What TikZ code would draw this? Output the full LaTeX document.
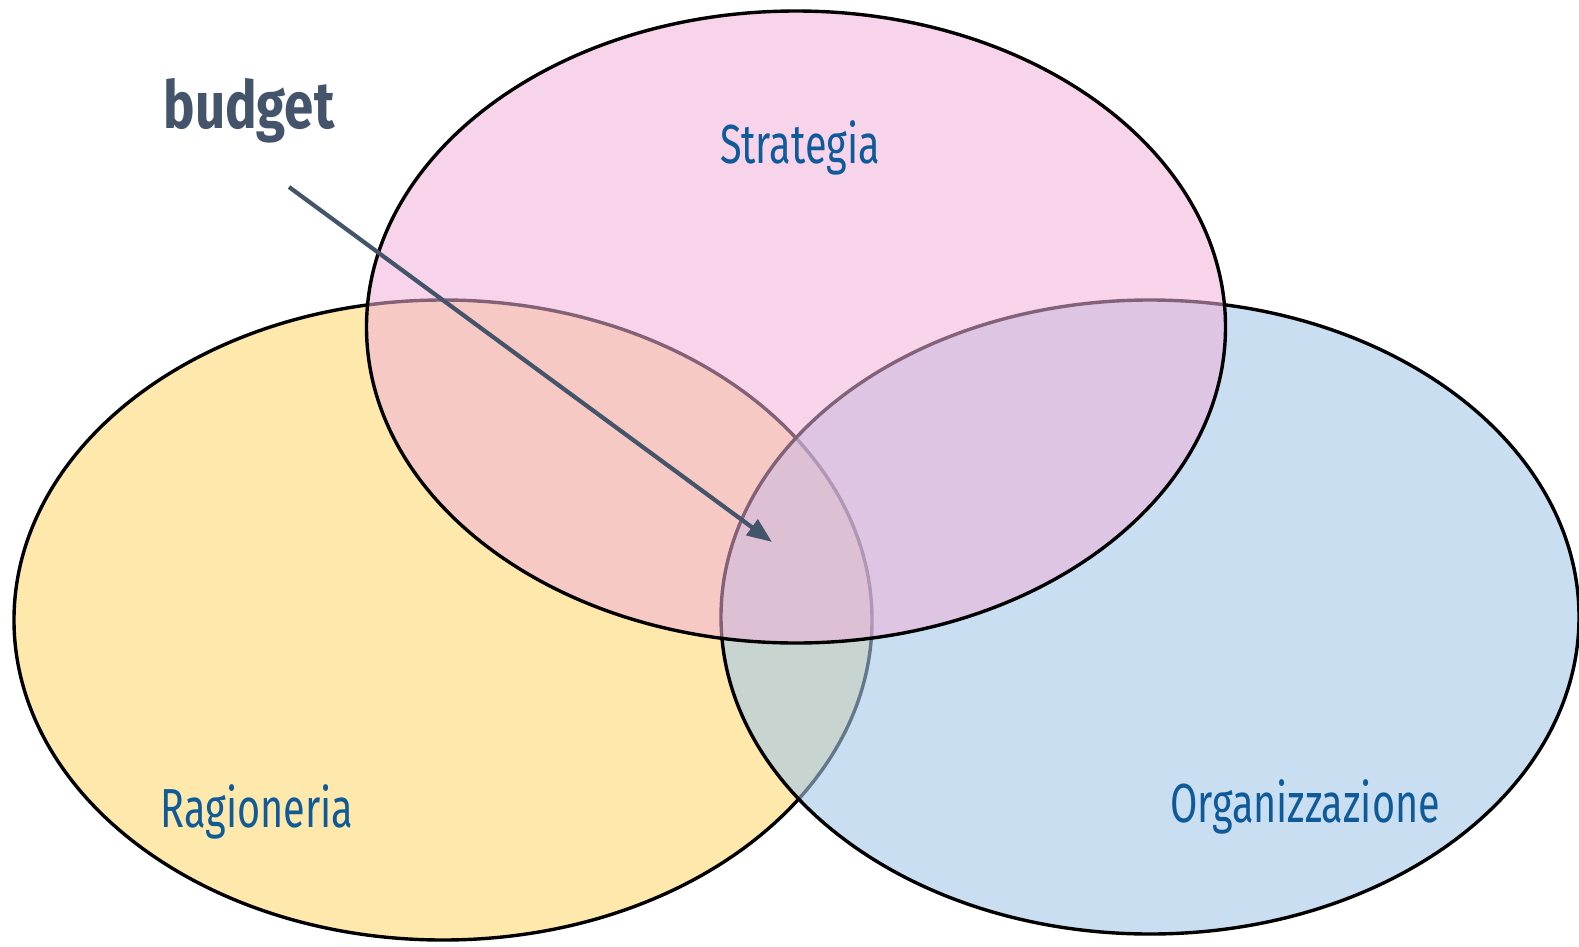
\documentclass[tikz,border=0pt]{standalone}
\usepackage{fontspec}
\setmainfont{Fira Sans}[FakeStretch=0.8]
\newfontfamily\stretta{Fira Sans}[FakeStretch=0.72]
\usepackage{tikz}
\usetikzlibrary{arrows.meta, shapes.geometric}

\definecolor{ragio}{RGB}{254,232,172}
\definecolor{strat}{RGB}{240,177,217}
\definecolor{organ}{RGB}{165,200,232}
\definecolor{testo}{RGB}{15,90,152}
\definecolor{ardesia}{RGB}{68,84,106}

\begin{document}
\begin{tikzpicture}[x=1bp,y=-1bp]
    \tikzset{insieme/.style={ellipse, draw=black, line width=3.4bp, inner sep=0pt}}
    \tikzset{voce/.style={anchor=base, text=testo, font=\stretta\fontsize{55bp}{60bp}\selectfont}}
    \useasboundingbox (0,0) rectangle (1579,946);
    \clip (0,0) rectangle (1579,946);
    % i tre insiemi
    \node[insieme, fill=ragio, minimum width=858bp, minimum height=640bp] (R) at (443,620) {};
    \node[insieme, fill=organ, fill opacity=0.6, minimum width=858bp, minimum height=634bp] (O) at (1150,617) {};
    \node[insieme, fill=strat, fill opacity=0.55, minimum width=859bp, minimum height=632bp] (S) at (796,327) {};
    % le etichette
    \node[voce] (tS) at (800,163) {Strategia};
    \node[voce] (tR) at (257,827) {Ragioneria};
    \node[voce] (tO) at (1305,822) {Organizzazione};
    \node[anchor=base, text=ardesia, font=\bfseries\fontsize{66bp}{70bp}\selectfont] (B) at (249,128) {budget};
    % la freccia
    \coordinate (a) at (289,187);
    \coordinate (b) at (772,542);
    \draw[-{Triangle[length=25bp,width=19bp]}, line width=4.2bp, ardesia] (a) -- (b);
\end{tikzpicture}
\end{document}
